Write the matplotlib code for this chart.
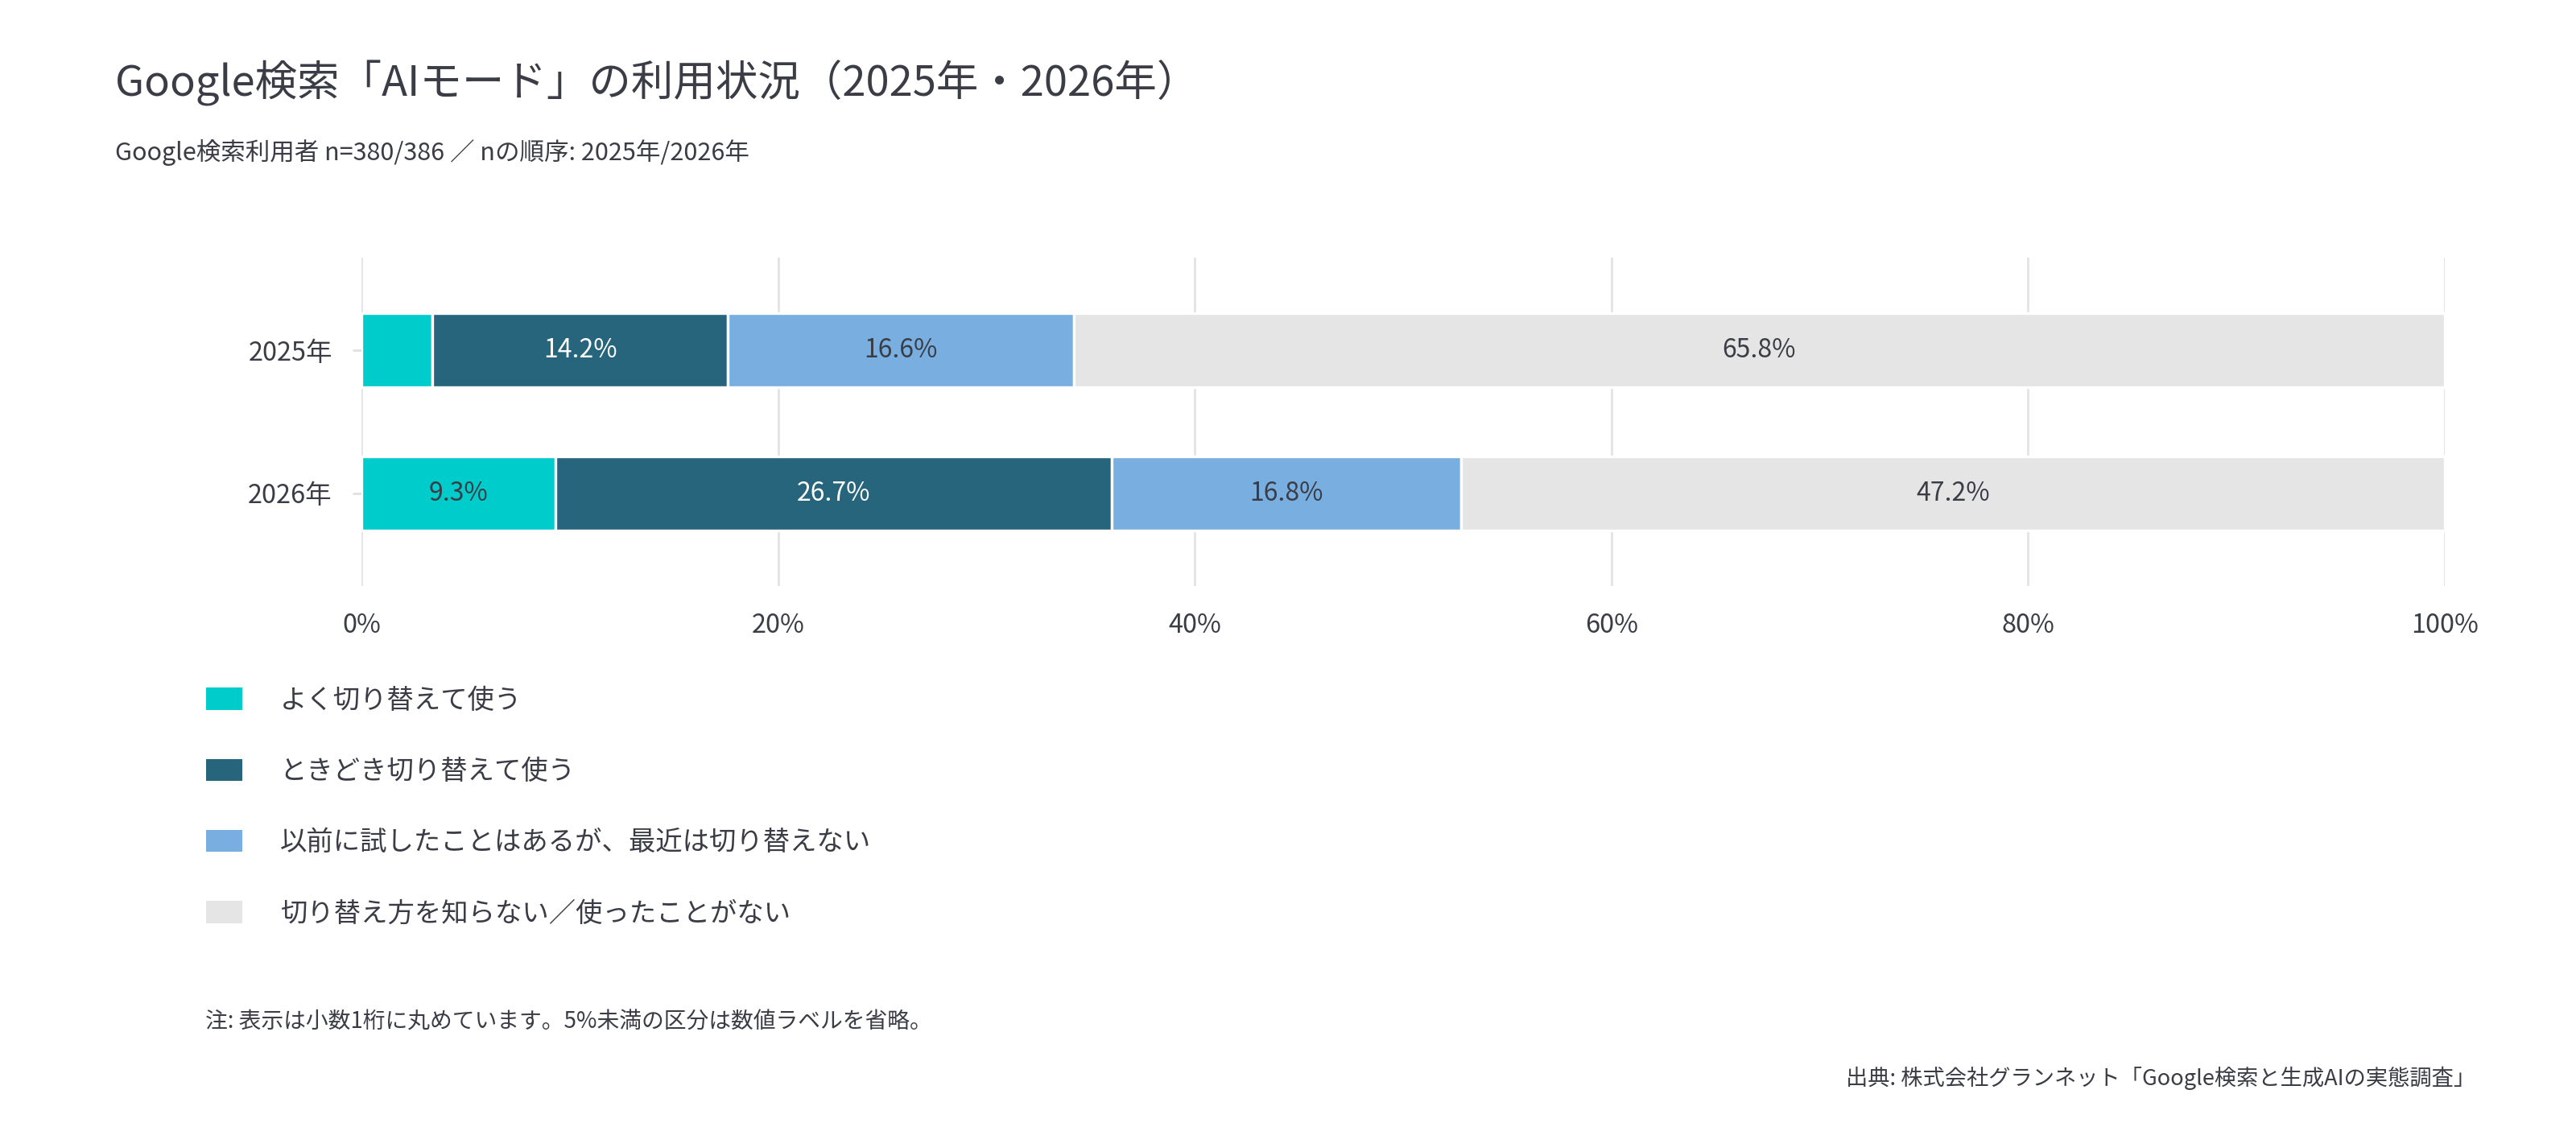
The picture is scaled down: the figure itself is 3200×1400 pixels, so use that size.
import numpy as np
import matplotlib
matplotlib.use("Agg")
import matplotlib.pyplot as plt
from matplotlib.patches import Patch

plt.rcParams['font.family'] = ['Noto Sans CJK JP', 'DejaVu Sans']

years = ['2025年', '2026年']
categories = ['よく切り替えて使う', 'ときどき切り替えて使う',
              '以前に試したことはあるが、最近は切り替えない',
              '切り替え方を知らない／使ったことがない']
often = [3.4, 9.3]
sometimes = [14.2, 26.7]
tried = [16.6, 16.8]
never = [65.8, 47.2]
colors = ['#00CCCC', '#27657D', '#78AFE0', '#E5E5E5']
label_colors = ['#3a3d45', 'white', '#3a3d45', '#3a3d45']
xticks = [0, 20, 40, 60, 80, 100]

txt = '#3a3d45'

fig = plt.figure(figsize=(16, 7), dpi=200)
ax = fig.add_axes([0.1403, 0.48, 0.8087, 0.2914])

series = [often, sometimes, tried, never]
y = np.arange(len(years))
left = np.zeros(len(years))
for vals, col, lc in zip(series, colors, label_colors):
    vals = np.array(vals)
    bars = ax.barh(y, vals, left=left, height=0.52, color=col,
                   edgecolor='white', linewidth=1.2, zorder=2)
    for b, v in zip(bars, vals):
        if v >= 5:
            ax.text(b.get_x() + b.get_width() / 2, b.get_y() + b.get_height() / 2,
                    f'{v:.1f}%', ha='center', va='center', color=lc,
                    fontsize=11.5, zorder=3)
    left += vals

ax.set_xlim(0, 100)
ax.set_ylim(1.65, -0.65)
ax.set_yticks(y)
ax.set_yticklabels(years)
ax.set_xticks(xticks)
ax.set_xticklabels([f'{t}%' for t in xticks])
ax.tick_params(axis='x', length=0, pad=12, labelsize=11.7, labelcolor=txt)
ax.tick_params(axis='y', length=4, width=1, color='#e0e0e0', pad=9,
               labelsize=11.7, labelcolor=txt)
ax.grid(axis='x', color='#e3e3e3', linewidth=1, zorder=0)
ax.set_axisbelow(True)
for s in ax.spines.values():
    s.set_visible(False)

fig.text(0.0447, 0.926, 'Google検索「AIモード」の利用状況（2025年・2026年）',
         fontsize=18.9, color=txt, va='center', ha='left')
fig.text(0.0447, 0.865, 'Google検索利用者 n=380/386 ／ nの順序: 2025年/2026年',
         fontsize=11, color=txt, va='center', ha='left')

handles = [Patch(facecolor=c, edgecolor='none') for c in colors]
fig.legend(handles, categories, loc='upper left', bbox_to_anchor=(0.0800, 0.391),
           frameon=False, fontsize=12, labelcolor=txt, handlelength=1.35,
           handleheight=0.88, handletextpad=1.4, labelspacing=1.6,
           borderaxespad=0, borderpad=0)

fig.text(0.0797, 0.093, '注: 表示は小数1桁に丸めています。5%未満の区分は数値ラベルを省略。',
         fontsize=10, color=txt, va='center', ha='left')
fig.text(0.961, 0.043, '出典: 株式会社グランネット「Google検索と生成AIの実態調査」',
         fontsize=9.8, color=txt, va='center', ha='right')

fig.savefig('out.png', dpi=200, facecolor='white')
